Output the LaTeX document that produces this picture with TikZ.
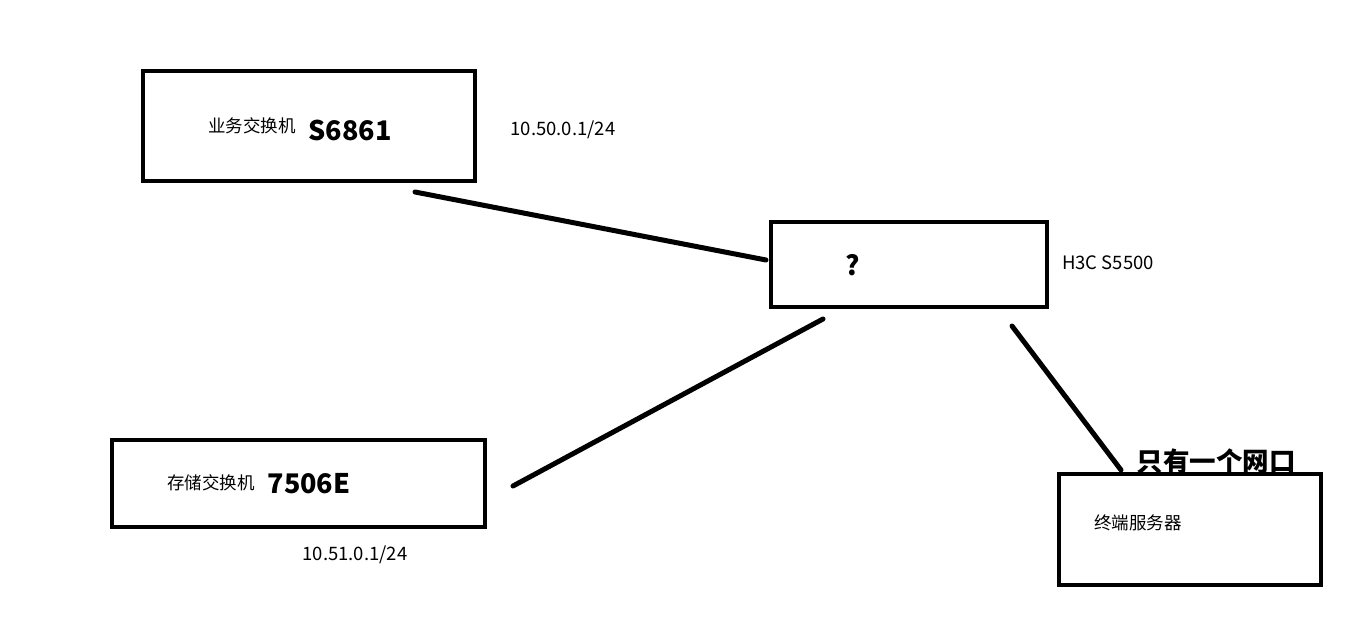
\documentclass[tikz,border=0pt]{standalone}
\usepackage{fontspec}
\setmainfont{Noto Sans CJK SC}
\begin{document}
\begin{tikzpicture}[x=1pt,y=-1pt,
  box/.style={draw=black,line width=4pt,fill=white},
  link/.style={draw=black,line width=5pt,line cap=round},
  cn/.style={font=\fontsize{17.5}{20}\selectfont,inner sep=0pt},
  bigb/.style={font=\fontsize{27}{30}\selectfont\bfseries,inner sep=0pt},
  ip/.style={font=\fontsize{18.5}{21}\selectfont,inner sep=0pt}]
\useasboundingbox (0,0) rectangle (1360,644);
% boxes
\path[box] (143,71) rectangle (475,181);
\node[inner sep=0pt] (b1) at (309,126) {};
\path[box] (771,222) rectangle (1047,307);
\node[inner sep=0pt] (b2) at (909,264) {};
\path[box] (112,440) rectangle (485,527);
\node[inner sep=0pt] (b3) at (298,483) {};
% connector endpoints
\coordinate (l1a) at (415,192);
\coordinate (l1b) at (766,260);
\coordinate (l2a) at (823,319);
\coordinate (l2b) at (513,486);
\coordinate (l3a) at (1012,326);
\coordinate (l3b) at (1121,470);
\draw[link] (l1a) -- (l1b);
\draw[link] (l2a) -- (l2b);
\draw[link] (l3a) -- (l3b);
% label above terminal server
\node[font=\fontsize{26.5}{28}\selectfont\bfseries,inner sep=0pt] (note) at (1216,461) {只有一个网口};
\path[box] (1059,474) rectangle (1321,585);
\node[inner sep=0pt] (b4) at (1190,530) {};
% texts
\node[cn] (t1) at (252,126) {业务交换机};
\node[bigb] (t1b) at (350,130) {S6861};
\node[ip] (ip1) at (563,130) {10.50.0.1/24};
\node[bigb] (q) at (853,265) {?};
\node[ip] (h3c) at (1108,263) {H3C S5500};
\node[cn] (t3) at (211,483) {存储交换机};
\node[bigb] (t3b) at (309,484) {7506E};
\node[ip] (ip2) at (355,555) {10.51.0.1/24};
\node[cn] (t4) at (1138,523) {终端服务器};
\end{tikzpicture}
\end{document}
